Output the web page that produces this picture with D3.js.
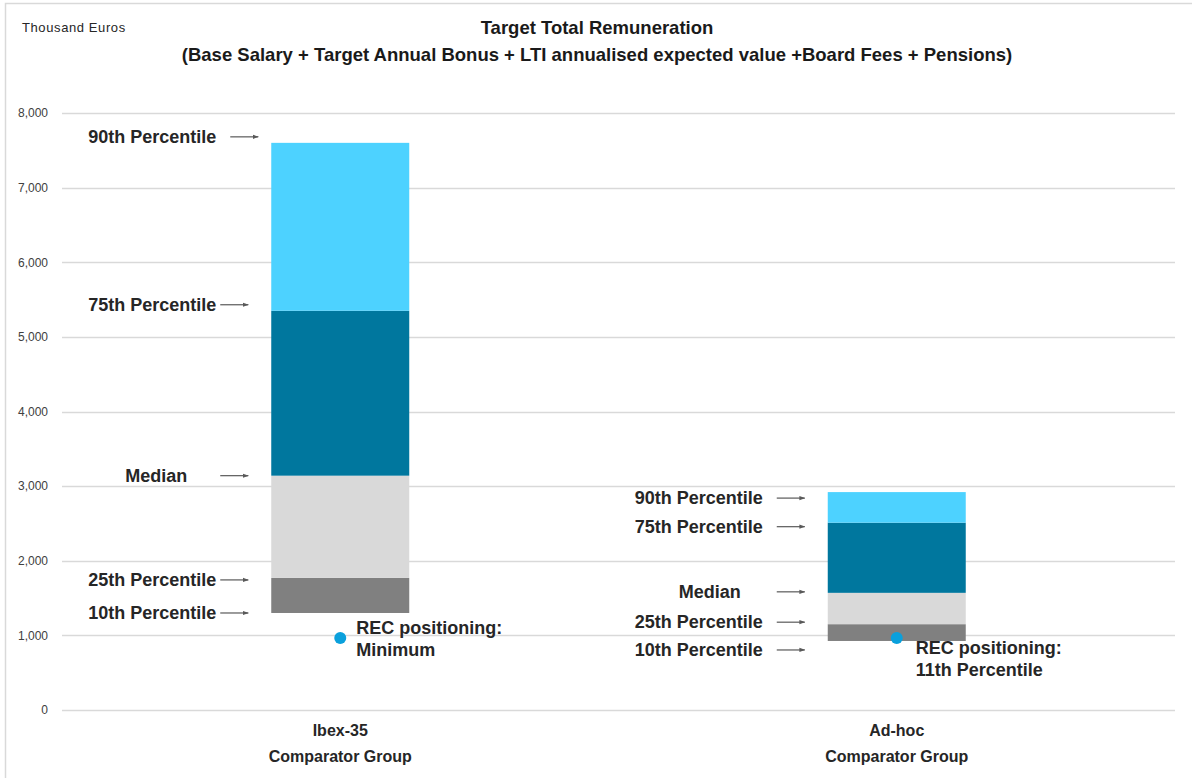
<!DOCTYPE html>
<html>
<head>
<meta charset="utf-8">
<script src="https://cdn.jsdelivr.net/npm/d3@7"></script>
<style>
  html, body { margin: 0; padding: 0; background: #fff; }
  svg { display: block; }
</style>
</head>
<body>
<svg id="chart" width="1192" height="778"></svg>
<script>
// ---- Data ----
const categories = ["Ibex-35|Comparator Group", "Ad-hoc|Comparator Group"];
const p10    = [1300, 925];
const p25    = [1770, 1150];
const median = [3140, 1570];
const p75    = [5350, 2510];
const p90    = [7600, 2920];
const recValue = [965, 965];
const recLabels = ["REC positioning:|Minimum", "REC positioning:|11th Percentile"];
const levelNames = ["10th Percentile", "25th Percentile", "Median", "75th Percentile", "90th Percentile"];
const segmentColors = ["#808080", "#D9D9D9", "#00779E", "#4DD2FF"];
const yTicks = [0, 1000, 2000, 3000, 4000, 5000, 6000, 7000, 8000];
const titleLines = ["Target Total Remuneration",
  "(Base Salary + Target Annual Bonus + LTI annualised expected value +Board Fees + Pensions)"];
const unitLabel = "Thousand Euros";

// ---- Layout ----
const W = 1192, H = 778;
const plot = { left: 62, right: 1175, top: 113, bottom: 710 };
const barWidth = 138;
const labelGap = [124, 134];                 // right edge of label column from bar centre
const medianShift = [60, 53];
const labelDy = [[0, 2, 0, -6, -6], [9, -2, -1, 4, 6]];
const arrowShift = [[0, 0, 0, 0, 10], [0, 0, 0, 0, 0]];
const narrow = "'Liberation Sans Narrow', 'Arial Narrow', 'Liberation Sans', Arial, sans-serif";

const svg = d3.select("#chart");

// frame (left and top edges visible)
svg.append("rect").attr("x", 5.5).attr("y", 3.5).attr("width", W + 10).attr("height", H + 10)
  .attr("fill", "none").attr("stroke", "#D9D9D9").attr("stroke-width", 1.5);

const x = d3.scalePoint().domain(categories).range([plot.left, plot.right]).padding(0.5);
const y = d3.scaleLinear().domain([0, 8000]).range([plot.bottom, plot.top]);

// gridlines
svg.append("g").selectAll("line").data(yTicks).join("line")
  .attr("x1", plot.left).attr("x2", plot.right)
  .attr("y1", d => Math.round(y(d)) + 0.5).attr("y2", d => Math.round(y(d)) + 0.5)
  .attr("stroke", "#D9D9D9").attr("stroke-width", 1.5);

// y axis labels
const yAxis = d3.axisLeft(y).tickValues(yTicks).tickFormat(d3.format(",")).tickSize(0).tickPadding(0);
const gy = svg.append("g").attr("transform", "translate(48,0)").call(yAxis);
gy.select(".domain").remove();
gy.selectAll("text").attr("font-family", "'Liberation Sans', Arial, sans-serif")
  .attr("font-size", 12).attr("fill", "#404040");

// arrow marker
const defs = svg.append("defs");
defs.append("marker").attr("id", "arr").attr("viewBox", "0 0 10 10")
  .attr("refX", 9).attr("refY", 5).attr("markerWidth", 5).attr("markerHeight", 5)
  .attr("orient", "auto")
  .append("path").attr("d", "M0,1.5 L10,5 L0,8.5 Z").attr("fill", "#595959");

// bars
categories.forEach((c, i) => {
  const levels = [p10[i], p25[i], median[i], p75[i], p90[i]];
  const cx = x(c);
  const g = svg.append("g");
  const segs = d3.range(4).map(k => ({ lo: levels[k], hi: levels[k + 1], color: segmentColors[k] }));
  g.selectAll("rect").data(segs).join("rect")
    .attr("x", cx - barWidth / 2).attr("width", barWidth)
    .attr("y", d => y(d.hi)).attr("height", d => y(d.lo) - y(d.hi))
    .attr("fill", d => d.color);

  // level labels with arrows
  const lblEnd = cx - labelGap[i];
  levels.forEach((v, k) => {
    const ly = y(v) + labelDy[i][k];
    const isMedian = levelNames[k] === "Median";
    svg.append("text")
      .attr("x", isMedian ? lblEnd - medianShift[i] : lblEnd)
      .attr("y", ly).attr("dy", "0.35em")
      .attr("text-anchor", isMedian ? "middle" : "end")
      .attr("font-family", narrow).attr("font-weight", "bold").attr("font-size", 18)
      .attr("fill", "#262626").text(levelNames[k]);
    svg.append("line")
      .attr("x1", cx - 120 + arrowShift[i][k]).attr("x2", cx - 92 + arrowShift[i][k])
      .attr("y1", ly).attr("y2", ly)
      .attr("stroke", "#595959").attr("stroke-width", 1.2)
      .attr("marker-end", "url(#arr)");
  });

  // REC point
  svg.append("circle").attr("cx", cx).attr("cy", y(recValue[i])).attr("r", 6)
    .attr("fill", "#0AA0DC");
  const rl = recLabels[i].split("|");
  const rx = cx + 16 + (i === 1 ? 3 : 0);
  const rt = svg.append("text")
    .attr("x", rx).attr("y", y(recValue[i]) - 10 + (i === 1 ? 20 : 0))
    .attr("font-family", narrow).attr("font-weight", "bold").attr("font-size", 18)
    .attr("fill", "#262626");
  rl.forEach((t, j) => rt.append("tspan").attr("x", rx).attr("dy", j === 0 ? "0.35em" : 22).text(t));

  // category label
  const cl = c.split("|");
  const ct = svg.append("text").attr("x", cx).attr("y", 730)
    .attr("text-anchor", "middle")
    .attr("font-family", narrow).attr("font-weight", "bold").attr("font-size", 16)
    .attr("fill", "#262626");
  cl.forEach((t, j) => ct.append("tspan").attr("x", cx).attr("dy", j === 0 ? "0.35em" : 26).text(t));
});

// title
const tt = svg.append("text").attr("x", 597).attr("y", 28).attr("text-anchor", "middle")
  .attr("font-family", narrow).attr("font-weight", "bold").attr("font-size", 18.5).attr("fill", "#1a1a1a");
titleLines.forEach((t, j) => tt.append("tspan").attr("x", 597).attr("dy", j === 0 ? "0.35em" : 27).text(t));

// unit label
svg.append("text").attr("x", 22).attr("y", 27).attr("dy", "0.35em")
  .attr("font-family", "'Liberation Sans', Arial, sans-serif").attr("font-size", 13)
  .attr("letter-spacing", "0.6").attr("fill", "#262626").text(unitLabel);
</script>
</body>
</html>
